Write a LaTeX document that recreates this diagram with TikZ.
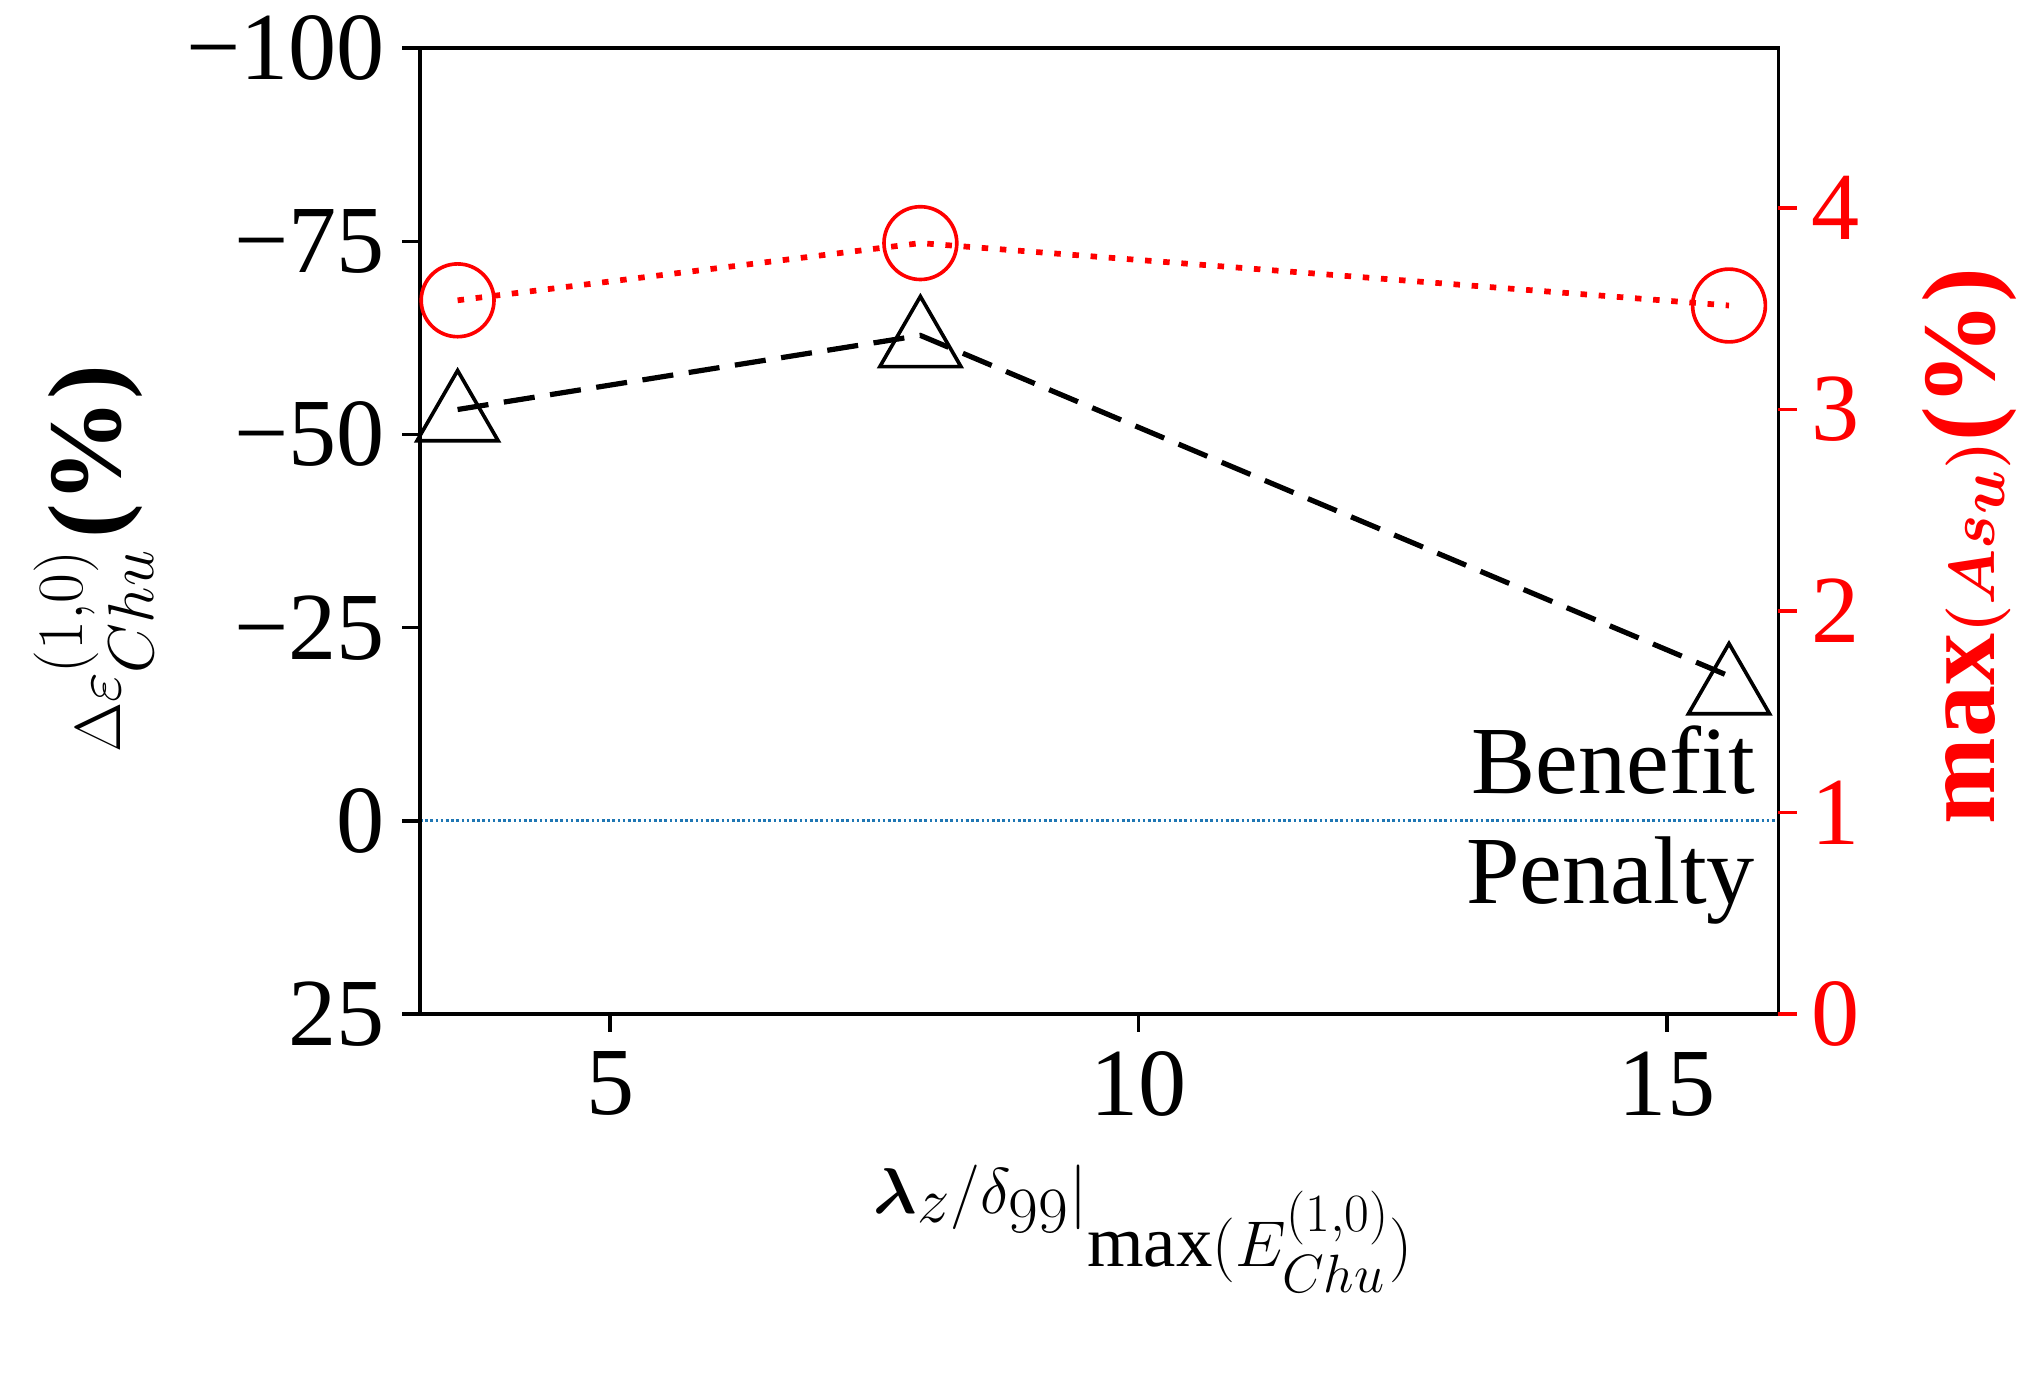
\documentclass[tikz,border=0pt]{standalone}
\usepackage{amsmath}
\usepackage{fontspec}
\setmainfont{Liberation Serif}
\usetikzlibrary{shapes.geometric}

% axis frame (display pixels, scaled)
\newcommand{\axleft}{323}
\newcommand{\axright}{1368}
\newcommand{\axtop}{37}
\newcommand{\axbottom}{780}
\newcommand{\ticklen}{14}

\begin{document}
\begin{tikzpicture}[x=0.5pt,y=-0.5pt]
\tikzstyle{tickfont}=[font=\fontsize{37}{37}\selectfont]
\tikzstyle{tri}=[draw,line width=1.4pt,regular polygon,regular polygon sides=3,minimum size=36pt,inner sep=0pt]
\tikzstyle{ring}=[draw=red,line width=1.4pt,circle,minimum size=28pt,inner sep=0pt]

\useasboundingbox (0,0) rectangle (1560,1061);

%% zero line
\draw[densely dotted,color={rgb,255:red,31;green,119;blue,180},line width=1pt] (\axleft,631) -- (\axright,631);

%% frame
\draw[line width=1.3pt] (\axleft,\axtop) rectangle (\axright,\axbottom);

%% left ticks
\foreach \v/\lab in {0/−100,1/−75,2/−50,3/−25,4/0,5/25}{
  \draw[line width=1.3pt] (\axleft,37+\v*148.6) -- ++(-\ticklen,0);
  \node[tickfont,anchor=east] at (\axleft-20,37+\v*148.6) {\lab};
}
%% right ticks
\foreach \v in {0,...,4}{
  \draw[red,line width=1.3pt] (\axright,780-\v*155) -- ++(\ticklen,0);
  \node[tickfont,red,anchor=west] at (\axright+18,780-\v*155) {\v};
}
%% bottom ticks
\foreach \v in {5,10,15}{
  \draw[line width=1.3pt] (323+\v*81.3-3.2*81.3,\axbottom) -- ++(0,\ticklen);
  \node[tickfont,anchor=north] at (323+\v*81.3-3.2*81.3,\axbottom+22) {\v};
}

%% triangles
\node (T1) [tri] at (352,321) {};
\node (T2) [tri] at (708,264) {};
\node (T3) [tri] at (1330,531) {};
\coordinate (t1) at (352,315);
\coordinate (t2) at (708,258);
\coordinate (t3) at (1330,520);
\draw[dash pattern=on 12pt off 6pt,line width=2pt] (t1) -- (t2) -- (t3);

%% circles
\node (C1) [ring] at (352,231) {};
\node (C2) [ring] at (708,187) {};
\node (C3) [ring] at (1330,235) {};
\draw[red,line width=2.2pt,dash pattern=on 2.5pt off 4.5pt] (C1.center) -- (C2.center) -- (C3.center);

%% region labels
\node[tickfont,anchor=east] (benefit) at (1357,585) {Benefit};
\node[tickfont,anchor=east] (penalty) at (1357,677) {Penalty};

%% axis labels
\node[font=\fontsize{40}{40}\selectfont,rotate=90] (ylab) at (72,430) {$\Delta\varepsilon^{(1,0)}_{Chu}\,$\textbf{(\%)}};
\node[font=\fontsize{40}{40}\selectfont,rotate=90,red] (y2lab) at (1515,420) {\textbf{max}$\boldsymbol{(As_u)}$\textbf{(\%)}};
\node[font=\fontsize{40}{40}\selectfont] (xlab) at (880,945) {$\boldsymbol{\lambda}_z/\delta_{99}|_{\max(E^{(1,0)}_{Chu})}$};
\end{tikzpicture}
\end{document}
